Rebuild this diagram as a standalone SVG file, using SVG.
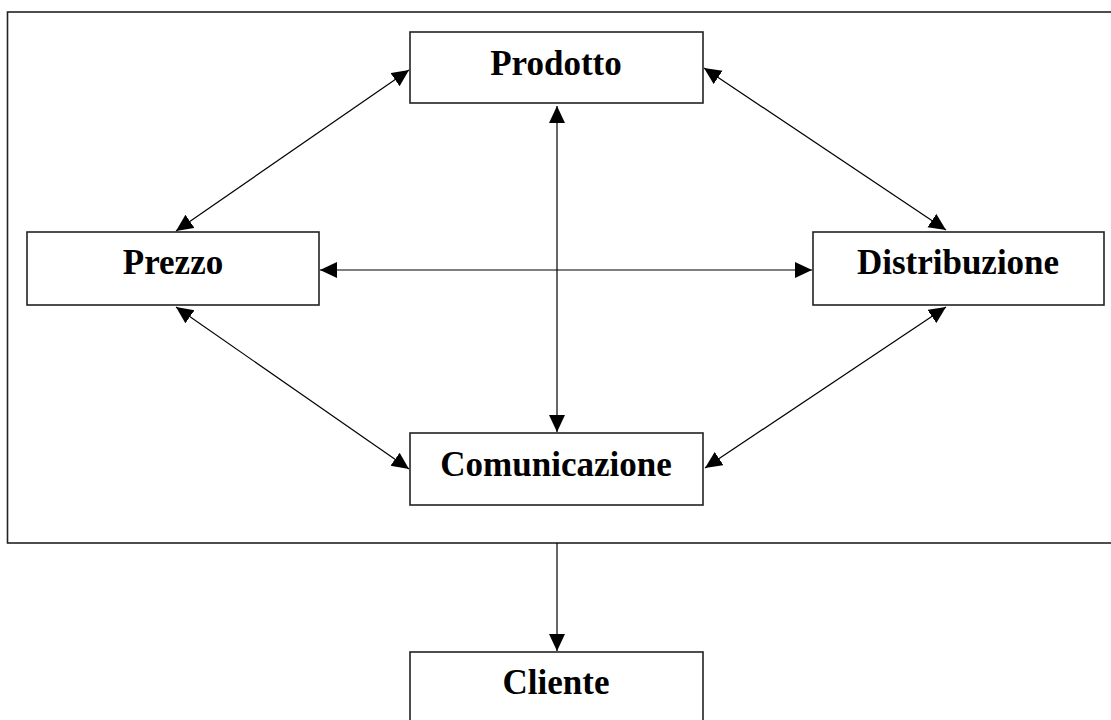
<svg xmlns="http://www.w3.org/2000/svg" width="1111" height="720" viewBox="0 0 1111 720">
  <style>
    .box { fill: #ffffff; stroke: #222222; stroke-width: 1.6; }
    .frame { fill: none; stroke: #222222; stroke-width: 1.6; }
    .lbl { font-family: "Liberation Serif", "Times New Roman", serif; font-weight: bold; font-size: 35px; fill: #000000; text-anchor: middle; }
    .conn { stroke: #000000; stroke-width: 1.2; fill: none; }
  </style>
  <defs>
    <marker id="ah" markerUnits="userSpaceOnUse" markerWidth="18" markerHeight="17" refX="17" refY="8" orient="auto-start-reverse">
      <path d="M0,0 L17,8 L0,16 z" fill="#000000"/>
    </marker>
  </defs>
  <rect width="1111" height="720" fill="#ffffff"/>
  <rect id="frame" class="frame" x="7.5" y="12" width="1120" height="531"/>
  <g id="connectors">
    <line class="conn" x1="557" y1="106" x2="557" y2="432" marker-start="url(#ah)" marker-end="url(#ah)"/>
    <line class="conn" x1="320" y1="270" x2="812" y2="270" marker-start="url(#ah)" marker-end="url(#ah)"/>
    <line class="conn" x1="176" y1="231" x2="409" y2="70" marker-start="url(#ah)" marker-end="url(#ah)"/>
    <line class="conn" x1="704" y1="68" x2="946" y2="230" marker-start="url(#ah)" marker-end="url(#ah)"/>
    <line class="conn" x1="176" y1="307" x2="409" y2="469" marker-start="url(#ah)" marker-end="url(#ah)"/>
    <line class="conn" x1="946" y1="307" x2="705" y2="468" marker-start="url(#ah)" marker-end="url(#ah)"/>
    <line class="conn" x1="557" y1="543" x2="557" y2="651" marker-end="url(#ah)"/>
  </g>
  <g id="prodotto">
    <rect class="box" x="410" y="32" width="293" height="71"/>
    <text class="lbl" x="556" y="75">Prodotto</text>
  </g>
  <g id="prezzo">
    <rect class="box" x="27" y="232" width="292" height="73"/>
    <text class="lbl" x="173" y="274">Prezzo</text>
  </g>
  <g id="distribuzione">
    <rect class="box" x="813" y="232" width="291" height="73"/>
    <text class="lbl" x="958" y="274">Distribuzione</text>
  </g>
  <g id="comunicazione">
    <rect class="box" x="410" y="433" width="293" height="72"/>
    <text class="lbl" x="556" y="476">Comunicazione</text>
  </g>
  <g id="cliente">
    <rect class="box" x="410" y="652" width="293" height="100"/>
    <text class="lbl" x="556" y="694">Cliente</text>
  </g>
</svg>
